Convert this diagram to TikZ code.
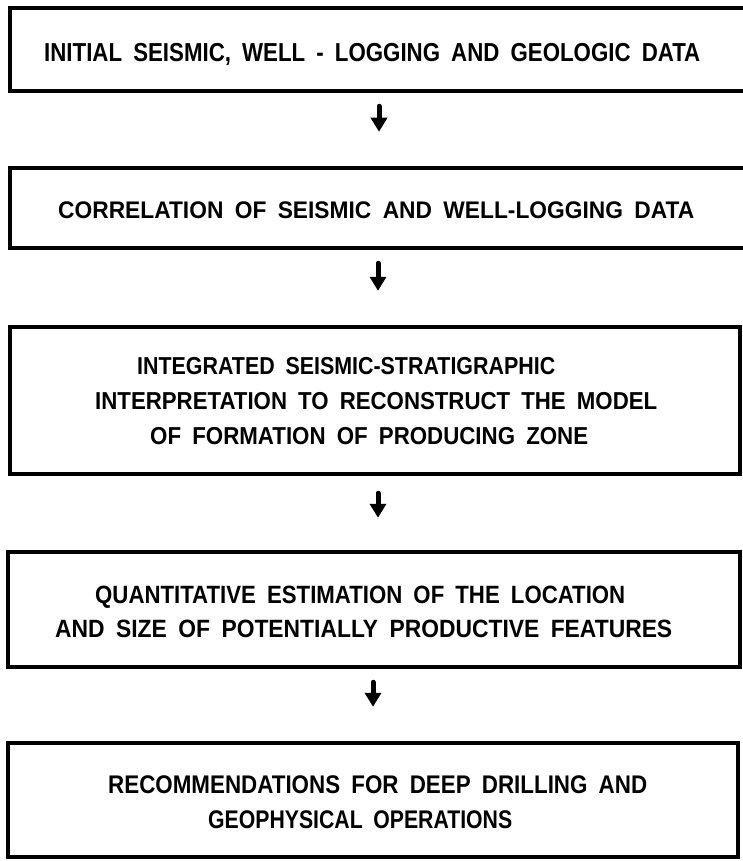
\documentclass[tikz,border=0pt]{standalone}
\usepackage{fontspec}
\setmainfont{Liberation Sans}
\usetikzlibrary{arrows.meta}
\newcommand\fitline[3]{\resizebox{#2}{\height}{\fontsize{#1}{#1}\selectfont\bfseries\spaceskip=0.5em\relax #3}}
\tikzset{
  box/.style={draw, rectangle, line width=4.5pt, inner sep=0pt},
  lbl/.style={anchor=base west, inner sep=0pt},
  arr/.style={line width=5pt, line cap=round, -{Triangle[width=16pt,length=14pt]}, shorten <=13pt, shorten >=34pt}
}
\begin{document}
\begin{tikzpicture}[x=1pt,y=-1pt]
\useasboundingbox (0,0) rectangle (742,861);
% boxes
\node[box, minimum width=736pt, minimum height=83pt] (b1) at (378,49.5) {};
\node[box, minimum width=736pt, minimum height=80pt] (b2) at (378,208) {};
\node[box, minimum width=730pt, minimum height=147pt] (b3) at (375,400.5) {};
\node[box, minimum width=732pt, minimum height=115pt] (b4) at (374,609.5) {};
\node[box, minimum width=730pt, minimum height=114pt] (b5) at (373,800) {};
% texts
\node[lbl] (t1) at (44,61.3) {\fitline{26pt}{656pt}{INITIAL SEISMIC, WELL - LOGGING AND GEOLOGIC DATA}};
\node[lbl] (t2) at (58,218.6) {\fitline{24pt}{636pt}{CORRELATION OF SEISMIC AND WELL-LOGGING DATA}};
\node[lbl] (t3a) at (137,374.8) {\fitline{24.5pt}{418pt}{INTEGRATED SEISMIC-STRATIGRAPHIC}};
\node[lbl] (t3b) at (95,409.8) {\fitline{24.5pt}{562pt}{INTERPRETATION TO RECONSTRUCT THE MODEL}};
\node[lbl] (t3c) at (150,444.8) {\fitline{24.5pt}{438pt}{OF FORMATION OF PRODUCING ZONE}};
\node[lbl] (t4a) at (95,603) {\fitline{25pt}{530pt}{QUANTITATIVE ESTIMATION OF THE LOCATION}};
\node[lbl] (t4b) at (55,637) {\fitline{25pt}{617pt}{AND SIZE OF POTENTIALLY PRODUCTIVE FEATURES}};
\node[lbl] (t5a) at (108,793) {\fitline{25.5pt}{539pt}{RECOMMENDATIONS FOR DEEP DRILLING AND}};
\node[lbl] (t5b) at (208,828) {\fitline{25.5pt}{304pt}{GEOPHYSICAL OPERATIONS}};
% arrows
\draw[arr] ([xshift=1pt]b1.south) -- ([xshift=1pt]b1.south |- b2.north);
\draw[arr] (b2.south) -- (b2.south |- b3.north);
\draw[arr, shorten <=17pt, shorten >=32pt] ([xshift=3pt]b3.south) -- ([xshift=3pt]b3.south |- b4.north);
\draw[arr] ([xshift=-1pt]b4.south) -- ([xshift=-1pt]b4.south |- b5.north);
\end{tikzpicture}
\end{document}
